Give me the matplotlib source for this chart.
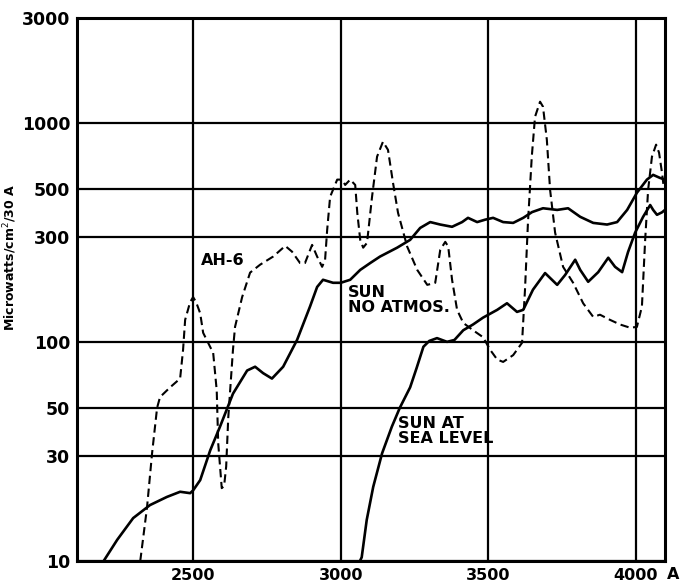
"""Solar irradiance vs AH-6 lamp output, log scale (replot of scanned figure)."""
import matplotlib
matplotlib.use('Agg')
import matplotlib.pyplot as plt
from matplotlib.transforms import blended_transform_factory

# wavelength (A) / microwatts per cm2 per 30 A
sun_space_wl = [2197, 2243, 2297, 2354, 2411, 2456, 2490, 2500, 2524, 2558, 2591,
                2635, 2683, 2710, 2737, 2767, 2805, 2852, 2896, 2920, 2940, 2974,
                3000, 3032, 3066, 3100, 3133, 3191, 3235, 3269, 3303, 3337, 3377,
                3411, 3431, 3462, 3489, 3516, 3550, 3584, 3618, 3648, 3685, 3733,
                3770, 3811, 3855, 3902, 3936, 3970, 4003, 4037, 4058, 4081, 4098]
sun_space_val = [10, 12.5, 15.7, 18, 19.6, 20.7, 20.4, 21, 23.4, 32, 41,
                 58, 74, 77, 72, 68, 77, 102, 145, 178, 192, 186,
                 186, 192, 213, 229, 245, 269, 292, 331, 352, 343, 335,
                 352, 368, 352, 361, 368, 352, 349, 368, 391, 407, 400,
                 407, 372, 349, 343, 352, 400, 479, 550, 578, 560, 550]

sun_sea_wl = [3065, 3071, 3088, 3110, 3140, 3173, 3200, 3235, 3257, 3280, 3300,
              3326, 3360, 3385, 3415, 3448, 3482, 3530, 3563, 3597, 3618, 3651,
              3692, 3733, 3760, 3794, 3811, 3838, 3872, 3906, 3929, 3953, 3973,
              3997, 4024, 4048, 4058, 4071, 4088, 4098]
sun_sea_val = [10, 10.4, 15.4, 21.8, 31, 41, 50, 62, 76, 95, 101,
               104, 100, 102, 113, 120, 129, 140, 150, 137, 140, 173,
               206, 182, 202, 237, 213, 188, 208, 242, 220, 208, 257,
               315, 372, 421, 400, 380, 390, 400]

ah6_wl = [2321, 2344, 2361, 2378, 2388, 2422, 2456, 2466, 2473, 2490, 2500, 2510,
          2524, 2534, 2568, 2580, 2585, 2597, 2605, 2612, 2619, 2635, 2642, 2666,
          2693, 2727, 2771, 2812, 2835, 2862, 2879, 2903, 2920, 2937, 2947, 2954,
          2964, 2988, 3005, 3015, 3032, 3049, 3056, 3066, 3076, 3089, 3106, 3123,
          3143, 3160, 3177, 3194, 3225, 3259, 3293, 3320, 3337, 3354, 3364, 3377,
          3394, 3415, 3448, 3482, 3506, 3530, 3550, 3584, 3614, 3624, 3634, 3647,
          3658, 3675, 3685, 3698, 3709, 3726, 3753, 3787, 3821, 3855, 3878, 3912,
          3946, 3980, 4003, 4020, 4031, 4041, 4054, 4068, 4078, 4088, 4095]
ah6_val = [10, 17.6, 31, 50, 56, 62, 68, 92, 126, 152, 160, 152,
           135, 110, 89, 60, 34.5, 21.5, 22, 27, 45, 92, 117, 160,
           207, 225, 245, 274, 258, 229, 229, 277, 245, 220, 237, 324,
           459, 550, 550, 520, 550, 520, 388, 292, 269, 283, 459, 700,
           819, 752, 532, 388, 272, 213, 182, 186, 263, 286, 272, 192,
           140, 122, 113, 105, 92, 83, 81, 87, 99, 173, 349, 700,
           1064, 1247, 1183, 836, 494, 315, 220, 186, 150, 130, 133, 126,
           120, 116, 117, 145, 292, 494, 700, 794, 730, 591, 494]

y_ticks = [10, 30, 50, 100, 300, 500, 1000, 3000]
x_ticks = [2500, 3000, 3500, 4000]
x_tick_labels = ['2500', '3000', '3500', '4000']

fig = plt.figure(figsize=(6.82, 5.85), dpi=100)
ax = fig.add_axes([0.113, 0.041, 0.862, 0.928])

ax.plot(sun_space_wl, sun_space_val, color='black', lw=1.9)
ax.plot(sun_sea_wl, sun_sea_val, color='black', lw=1.9)
ax.plot(ah6_wl, ah6_val, color='black', lw=1.5, linestyle=(0, (4, 2.2)))

ax.set_yscale('log')
ax.set_xlim(2107, 4098)
ax.set_ylim(10, 3000)

ax.set_yticks(y_ticks)
ax.set_yticklabels([str(v) for v in y_ticks])
ax.yaxis.set_minor_locator(matplotlib.ticker.NullLocator())
ax.set_xticks(x_ticks)
ax.set_xticklabels(x_tick_labels)
ax.tick_params(length=0, labelsize=12.5, pad=5)
for lab in ax.get_xticklabels() + ax.get_yticklabels():
    lab.set_fontweight('bold')
ax.tick_params(axis='x', labelsize=11.5, pad=5)

ax.grid(True, which='major', color='black', lw=1.6)
for sp in ax.spines.values():
    sp.set_linewidth(2.2)

# trailing unit on the last x label
trans = blended_transform_factory(ax.transData, ax.transAxes)
ax.text(4106, -0.0115, 'A', transform=trans, ha='left', va='top',
        fontsize=11.5, fontweight='bold')

ax.set_ylabel('Microwatts/cm$^2$/30 A', fontsize=9, fontweight='bold')
ax.yaxis.set_label_coords(-0.098, 0.56)

ax.text(2528, 234, 'AH-6', fontsize=11.5, fontweight='bold', va='center')
ax.text(3025, 155, 'SUN\nNO ATMOS.', fontsize=11.5, fontweight='bold',
        va='center', linespacing=1.0)
ax.text(3194, 39, 'SUN AT\nSEA LEVEL', fontsize=11.5, fontweight='bold',
        va='center', linespacing=1.0)

fig.savefig('out.png', dpi=100)
